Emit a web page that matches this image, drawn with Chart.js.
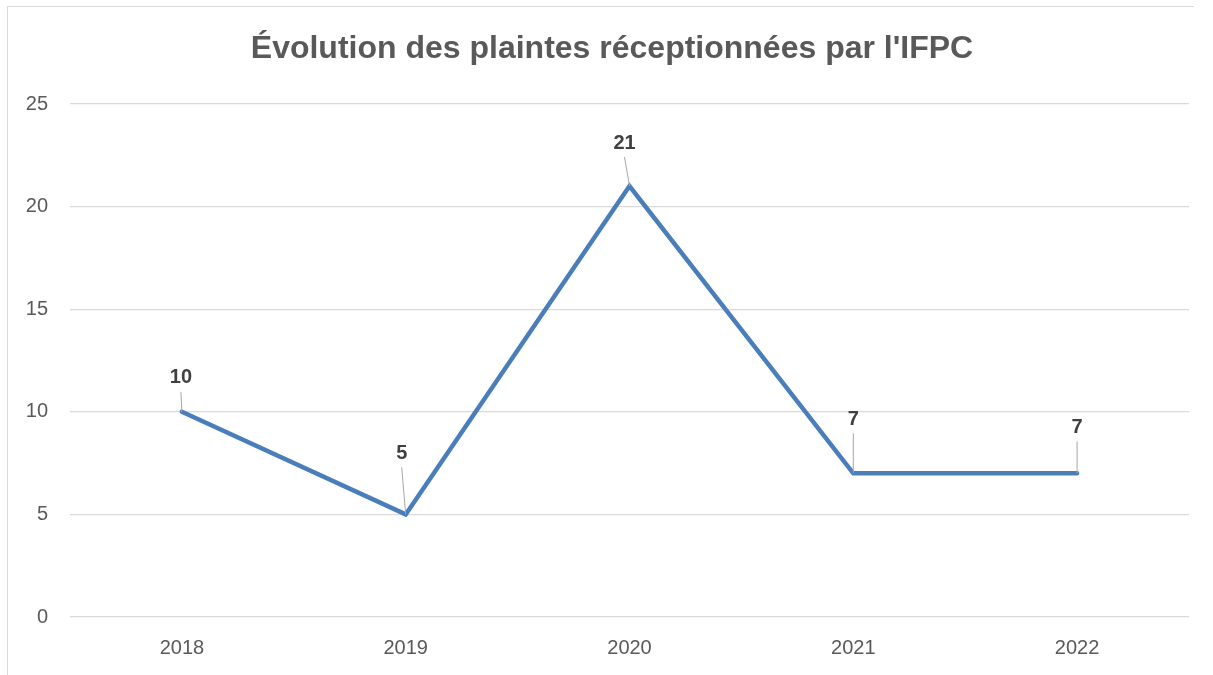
<!DOCTYPE html>
<html><head><meta charset="utf-8">
<script src="https://cdn.jsdelivr.net/npm/chart.js@4"></script>
<style>
html,body{margin:0;padding:0;background:#fff;}
#wrap{position:relative;width:1213px;height:675px;}
#frame{position:absolute;left:7px;top:6px;width:1186px;height:680px;border-left:1px solid #d9d9d9;border-top:1px solid #d9d9d9;pointer-events:none;}
canvas{position:absolute;left:0;top:0;}
</style></head>
<body>
<div id="wrap"><canvas id="c" width="1213" height="675"></canvas><div id="frame"></div></div>
<script>
const titleText = "Évolution des plaintes réceptionnées par l'IFPC";
const years = ["2018","2019","2020","2021","2022"];
const plaintes = [10, 5, 21, 7, 7];
const yTicks = [0, 5, 10, 15, 20, 25];
// label placement (style only): offsets in px from the point
const labelDy = [34, 61, 43, 54, 46];
const labelDx = [-1, -4, -5, 0, 0];

const FONT = "'Liberation Sans', Arial, sans-serif";

const titlePlugin = {
  id: 'ctitle',
  afterDraw(chart) {
    const ctx = chart.ctx;
    ctx.save();
    ctx.fillStyle = '#595959';
    ctx.font = "bold 32px " + FONT;
    ctx.textAlign = 'center';
    ctx.textBaseline = 'middle';
    ctx.fillText(titleText, 612, 49);
    ctx.restore();
  }
};

const labelPlugin = {
  id: 'labels',
  afterDatasetsDraw(chart) {
    const ctx = chart.ctx;
    const meta = chart.getDatasetMeta(0);
    ctx.save();
    meta.data.forEach((pt, i) => {
      const lx = pt.x + labelDx[i], ly = pt.y - labelDy[i];
      ctx.strokeStyle = '#a6a6a6';
      ctx.lineWidth = 1;
      ctx.beginPath();
      ctx.moveTo(lx, ly + 14);
      ctx.lineTo(pt.x, pt.y);
      ctx.stroke();
      ctx.fillStyle = '#404040';
      ctx.font = "bold 20px " + FONT;
      ctx.textAlign = 'center';
      ctx.textBaseline = 'middle';
      ctx.fillText(String(plaintes[i]), lx, ly);
    });
    ctx.restore();
  }
};

new Chart(document.getElementById('c'), {
  type: 'line',
  data: {
    labels: years,
    datasets: [{
      data: plaintes,
      borderColor: '#4a7ebb',
      borderWidth: 4.5,
      pointRadius: 0,
      tension: 0,
      borderCapStyle: 'round',
      borderJoinStyle: 'miter'
    }]
  },
  options: {
    responsive: false,
    animation: false,
    layout: { padding: { left: 0, right: 24, top: 104, bottom: 8 } },
    plugins: {
      legend: { display: false },
      tooltip: { enabled: false },
      title: { display: false }
    },
    scales: {
      x: {
        offset: true,
        grid: { display: false, drawTicks: false },
        border: { display: false },
        ticks: { color: '#595959', font: { family: FONT, size: 20 }, padding: 19, maxRotation: 0 },
        afterFit(s) { s.height = 50; }
      },
      y: {
        min: 0, max: 25,
        afterBuildTicks(s) { s.ticks = yTicks.map(v => ({ value: v })); },
        grid: { color: '#d9d9d9', lineWidth: 1.3, drawTicks: false },
        border: { display: false },
        ticks: { color: '#595959', font: { family: FONT, size: 20 }, padding: 22 },
        afterFit(s) { s.width = 70; }
      }
    }
  },
  plugins: [labelPlugin, titlePlugin]
});
</script>
</body></html>
